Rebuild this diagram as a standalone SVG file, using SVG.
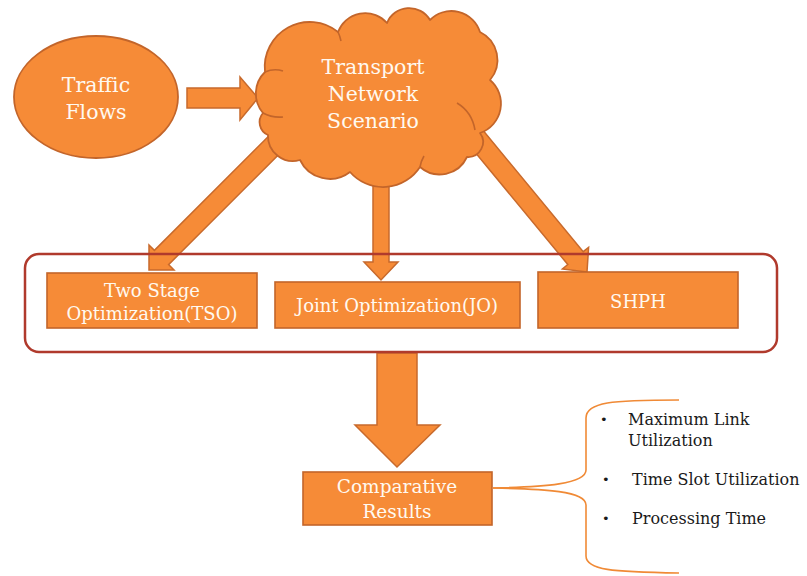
<svg xmlns="http://www.w3.org/2000/svg" width="807" height="576" viewBox="0 0 807 576">
  <style>
    .shape { fill: #F68B37; stroke: #C3652A; stroke-width: 1.8; stroke-linejoin: round; }
    .arrow { fill: #F68B37; stroke: #C86A2C; stroke-width: 1.5; stroke-linejoin: miter; }
    .box { fill: #F68B37; stroke: #C3652A; stroke-width: 1.6; }
    .frame { fill: none; stroke: #B03A2C; stroke-width: 2.5; }
    .label { font-family: "DejaVu Serif", "Liberation Serif", serif; fill: #FFF9F0; text-anchor: middle; }
    .item { font-family: "DejaVu Serif", "Liberation Serif", serif; fill: #1a1a1a; font-size: 16px; }
    .dot { font-family: "DejaVu Sans", sans-serif; fill: #1a1a1a; font-size: 13px; }
    .brace { fill: none; stroke: #F08A36; stroke-width: 1.6; }
    .fold { fill: none; stroke: #C3652A; stroke-width: 1.6; }
  </style>

  <!-- connectors (block arrows), drawn beneath the nodes -->
  <g id="connectors">
    <!-- Traffic Flows -> cloud -->
    <polygon class="arrow" points="187,88 240,88 240,77 258,98 240,120 240,108 187,108"/>
    <!-- cloud -> TSO -->
    <polygon class="arrow" points="278.1,126.7 154.4,250.4 149,245 149,270 174,270 168.6,264.6 292.3,140.9"/>
    <!-- cloud -> JO -->
    <polygon class="arrow" points="373,168 389,168 389,262 398,262 381,280 364,262 373,262"/>
    <!-- cloud -> SHPH -->
    <polygon class="arrow" points="474.9,120.6 583.2,251.7 588.6,247.3 587,272 562.4,268.9 567.8,264.5 459.5,133.4"/>
    <!-- methods -> Comparative Results -->
    <polygon class="arrow" points="377,353 417,353 417,425 440,425 397,467 355,425 377,425"/>
    <!-- brace to the metrics list -->
    <path class="brace" d="M 679 400 C 612 400 586 402 586 418 L 586 470 C 586 484 545 487 493 488"/>
    <path class="brace" d="M 493 488 C 545 489 586 491 586 505 L 586 556 C 586 570 612 572 679 573"/>
  </g>

  <g id="traffic-flows">
    <ellipse class="shape" cx="96" cy="97" rx="82" ry="61"/>
    <text class="label" font-size="20.5" x="96" y="92">Traffic</text>
    <text class="label" font-size="20.5" x="96" y="119">Flows</text>
  </g>

  <g id="transport-network">
    <path class="shape" d="M 265 72
      A 45 45 0 0 1 338 32
      A 29 29 0 0 1 387 23
      A 24 24 0 0 1 430 20
      A 30 30 0 0 1 480 32
      A 31 31 0 0 1 490 80
      A 31 31 0 0 1 480 133
      A 15 15 0 0 1 467 157
      A 30 30 0 0 1 420 167
      A 44 44 0 0 1 350 172
      A 33 33 0 0 1 300 160
      A 25 25 0 0 1 268 135
      A 14 14 0 0 1 263 113
      A 30 30 0 0 1 265 72 Z"/>
    <!-- inner fold lines of the cloud -->
    <path class="fold" d="M 263 113 Q 272 118 283 117"/>
    <path class="fold" d="M 265 72 Q 274 68 283 71"/>
    <path class="fold" d="M 457 103 Q 472 112 475 130"/>
    <path class="fold" d="M 420 167 Q 421 161 424 156"/>
    <path class="fold" d="M 338 32 Q 340 36 341 41"/>
    <text class="label" font-size="20.5" x="373" y="74">Transport</text>
    <text class="label" font-size="20.5" x="373" y="101">Network</text>
    <text class="label" font-size="20.5" x="373" y="128">Scenario</text>
  </g>

  <g id="methods">
    <rect class="frame" x="25" y="254" width="752" height="98" rx="14" ry="14"/>
  </g>

  <g id="tso">
    <rect class="box" x="47" y="273" width="210" height="55"/>
    <text class="label" font-size="18" x="152" y="297">Two Stage</text>
    <text class="label" font-size="18" x="152" y="320">Optimization(TSO)</text>
  </g>

  <g id="jo">
    <rect class="box" x="275" y="282" width="245" height="46"/>
    <text class="label" font-size="18" x="397" y="312">Joint Optimization(JO)</text>
  </g>

  <g id="shph">
    <rect class="box" x="538" y="272" width="200" height="56"/>
    <text class="label" font-size="18" x="638" y="308">SHPH</text>
  </g>

  <g id="comparative-results">
    <rect class="box" x="303" y="472" width="189" height="53"/>
    <text class="label" font-size="18.5" x="397" y="493">Comparative</text>
    <text class="label" font-size="18.5" x="397" y="518">Results</text>
  </g>

  <g id="metrics">
    <text class="dot" x="600" y="424">•</text>
    <text class="item" x="628" y="425">Maximum Link</text>
    <text class="item" x="628" y="446">Utilization</text>
    <text class="dot" x="602" y="484">•</text>
    <text class="item" x="632" y="485">Time Slot Utilization</text>
    <text class="dot" x="602" y="523">•</text>
    <text class="item" x="632" y="524">Processing Time</text>
  </g>
</svg>
